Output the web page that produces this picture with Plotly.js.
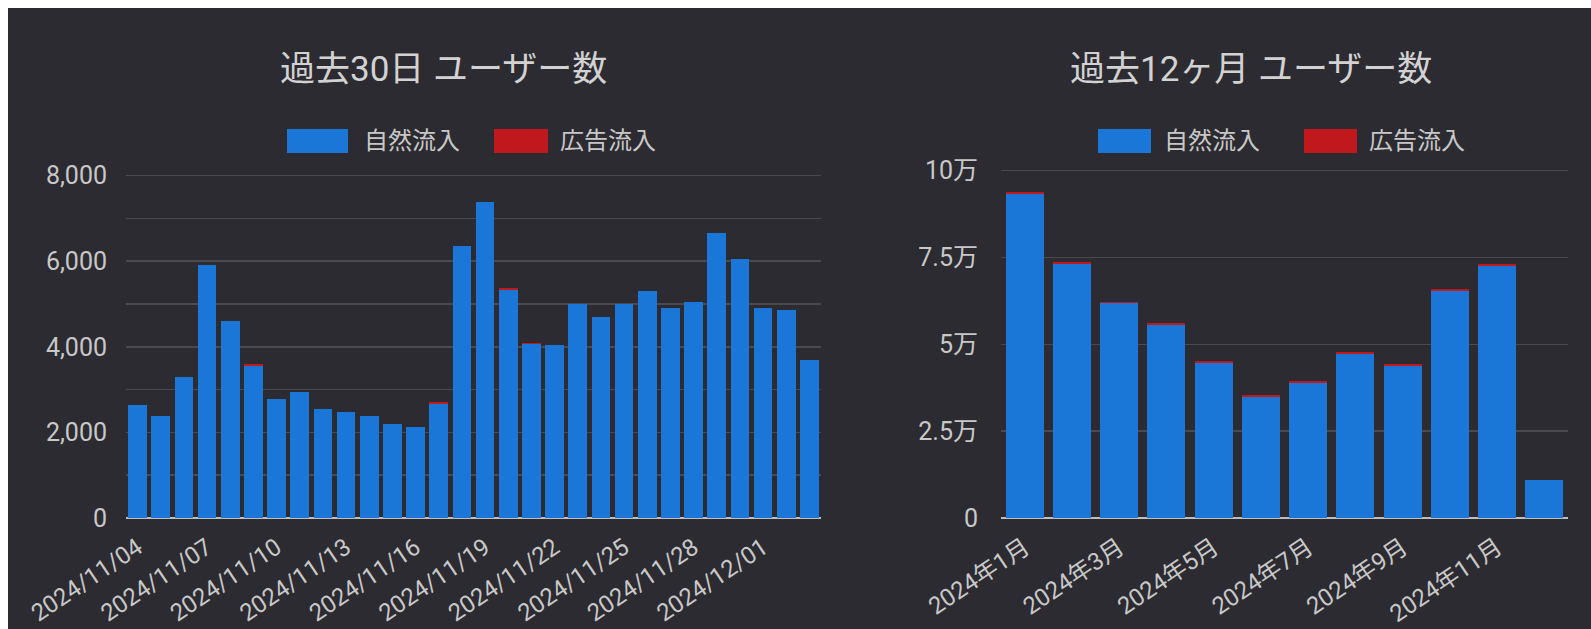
<!DOCTYPE html>
<html>
<head>
<meta charset="utf-8">
<script src="https://cdn.plot.ly/plotly-3.0.1.min.js"></script>
<style>
  html, body { margin: 0; padding: 0; background: #ffffff; }
  #chart { width: 1591px; height: 629px; }
</style>
</head>
<body>
<div id="chart"></div>
<script>
// ---- Data ----
const days = [
  "2024/11/04","2024/11/05","2024/11/06","2024/11/07","2024/11/08","2024/11/09",
  "2024/11/10","2024/11/11","2024/11/12","2024/11/13","2024/11/14","2024/11/15",
  "2024/11/16","2024/11/17","2024/11/18","2024/11/19","2024/11/20","2024/11/21",
  "2024/11/22","2024/11/23","2024/11/24","2024/11/25","2024/11/26","2024/11/27",
  "2024/11/28","2024/11/29","2024/11/30","2024/12/01","2024/12/02","2024/12/03"
];
const dailyOrganic = [
  2639, 2379, 3289, 5900, 4599, 3560,
  2789, 2939, 2539, 2479, 2389, 2189,
  2129, 2660, 6359, 7379, 5320, 4060,
  4039, 4999, 4699, 4999, 5299, 4899,
  5039, 6669, 6059, 4899, 4849, 3689
];
const dailyAds = [
  1, 1, 1, 10, 1, 40,
  1, 1, 1, 1, 1, 1,
  1, 40, 1, 1, 50, 40,
  1, 1, 1, 1, 1, 1,
  1, 1, 1, 1, 1, 1
];
const dayTickLabels = [
  "2024/11/04","2024/11/07","2024/11/10","2024/11/13","2024/11/16",
  "2024/11/19","2024/11/22","2024/11/25","2024/11/28","2024/12/01"
];
const dailyYTicks = [0, 2000, 4000, 6000, 8000];
const dailyYTickText = ["0", "2,000", "4,000", "6,000", "8,000"];

const months = [
  "2024年1月","2024年2月","2024年3月","2024年4月","2024年5月","2024年6月",
  "2024年7月","2024年8月","2024年9月","2024年10月","2024年11月","2024年12月"
];
const monthlyOrganic = [93400, 73050, 61800, 55500, 44750, 34900, 39000, 47300, 43800, 65400, 72500, 10900];
const monthlyAds     = [  500,   500,   500,   500,   500,   500,   500,   500,   500,   500,   500,    40];
const monthTickLabels = ["2024年1月","2024年3月","2024年5月","2024年7月","2024年9月","2024年11月"];
const monthlyYTicks = [0, 25000, 50000, 75000, 100000];
const monthlyYTickText = ["0", "2.5万", "5万", "7.5万", "10万"];

const seriesNames = ["自然流入", "広告流入"];
const chartTitles = ["過去30日 ユーザー数", "過去12ヶ月 ユーザー数"];

// ---- Styling ----
const W = 1591, H = 629;
const px = x => x / W;
const py = y => 1 - y / H;
const BG = "#2c2b31";
const BLUE = "#1a77d8";
const RED = "#c0181c";
const GRID = "#4a4950";
const TXT = "#c8c8c8";
const FONT = "Roboto, 'Noto Sans CJK JP', sans-serif";

const traces = [
  { type: "bar", name: seriesNames[0], x: days, y: dailyOrganic, xaxis: "x", yaxis: "y",
    marker: { color: BLUE, line: { width: 0 } } },
  { type: "bar", name: seriesNames[1], x: days, y: dailyAds, xaxis: "x", yaxis: "y",
    marker: { color: RED, line: { width: 0 } } },
  { type: "bar", name: seriesNames[0], x: months, y: monthlyOrganic, xaxis: "x2", yaxis: "y2",
    marker: { color: BLUE, line: { width: 0 } } },
  { type: "bar", name: seriesNames[1], x: months, y: monthlyAds, xaxis: "x2", yaxis: "y2",
    marker: { color: RED, line: { width: 0 } } }
];

function legendShapes(x0Blue, wBlue, x0Red, wRed, yc) {
  return [
    { type: "rect", xref: "paper", yref: "paper", x0: px(x0Blue), x1: px(x0Blue + wBlue),
      y0: py(yc + 12), y1: py(yc - 12), fillcolor: BLUE, line: { width: 0 } },
    { type: "rect", xref: "paper", yref: "paper", x0: px(x0Red), x1: px(x0Red + wRed),
      y0: py(yc + 12), y1: py(yc - 12), fillcolor: RED, line: { width: 0 } }
  ];
}
function legendTexts(xBlue, xRed, yc) {
  return [
    { xref: "paper", yref: "paper", x: px(xBlue), y: py(yc), xanchor: "left", yanchor: "middle",
      text: seriesNames[0], showarrow: false, font: { size: 24, color: TXT, family: FONT } },
    { xref: "paper", yref: "paper", x: px(xRed), y: py(yc), xanchor: "left", yanchor: "middle",
      text: seriesNames[1], showarrow: false, font: { size: 24, color: TXT, family: FONT } }
  ];
}

const layout = {
  width: W, height: H,
  margin: { l: 0, r: 0, t: 0, b: 0, pad: 0 },
  paper_bgcolor: "#ffffff",
  plot_bgcolor: "rgba(0,0,0,0)",
  barmode: "stack",
  bargap: 0.2,
  showlegend: false,
  font: { family: FONT, color: TXT },
  shapes: [
    { type: "rect", xref: "paper", yref: "paper", x0: px(8), x1: 1, y0: 0, y1: py(8),
      fillcolor: BG, line: { width: 0 }, layer: "below" },
    ...legendShapes(287, 61, 494, 54, 141),
    ...legendShapes(1098, 53, 1304, 53, 141)
  ],
  annotations: [
    { xref: "paper", yref: "paper", x: px(443), y: py(69), xanchor: "center", yanchor: "middle",
      text: chartTitles[0], showarrow: false, font: { size: 35, color: "#d2d2d2", family: FONT } },
    { xref: "paper", yref: "paper", x: px(1251), y: py(69), xanchor: "center", yanchor: "middle",
      text: chartTitles[1], showarrow: false, font: { size: 35, color: "#d2d2d2", family: FONT } },
    ...legendTexts(362, 558, 141),
    ...legendTexts(1162, 1367, 141)
  ],
  xaxis: {
    domain: [px(126), px(821)], anchor: "y", type: "category",
    tickmode: "array", tickvals: dayTickLabels, ticktext: dayTickLabels,
    tickangle: -34, tickfont: { size: 24, color: TXT }, showgrid: false, ticks: "",
    ticklabelstandoff: 10,
    showline: false, zeroline: false, fixedrange: true
  },
  yaxis: {
    domain: [py(518), py(172.6)], anchor: "x", range: [0, 8070],
    tickmode: "array", tickvals: dailyYTicks, ticktext: dailyYTickText,
    tickfont: { size: 25, color: TXT }, ticks: "", ticklabelstandoff: 18,
    showgrid: true, gridcolor: GRID, gridwidth: 1.5,
    minor: { tickmode: "linear", tick0: 0, dtick: 1000, showgrid: true, gridcolor: GRID, gridwidth: 1.5, ticks: "" },
    zeroline: true, zerolinecolor: "#bdbdbd", zerolinewidth: 2, showline: false, fixedrange: true
  },
  xaxis2: {
    domain: [px(1001), px(1568)], anchor: "y2", type: "category",
    tickmode: "array", tickvals: monthTickLabels, ticktext: monthTickLabels,
    tickangle: -34, tickfont: { size: 24, color: TXT }, showgrid: false, ticks: "",
    ticklabelstandoff: 10,
    showline: false, zeroline: false, fixedrange: true
  },
  yaxis2: {
    domain: [py(518), py(167.6)], anchor: "x2", range: [0, 100865],
    tickmode: "array", tickvals: monthlyYTicks, ticktext: monthlyYTickText,
    tickfont: { size: 25, color: TXT }, ticks: "", ticklabelstandoff: 22,
    showgrid: true, gridcolor: GRID, gridwidth: 1.5,
    zeroline: true, zerolinecolor: "#bdbdbd", zerolinewidth: 2, showline: false, fixedrange: true
  }
};

Plotly.newPlot("chart", traces, layout, { displayModeBar: false, staticPlot: true });
</script>
</body>
</html>
